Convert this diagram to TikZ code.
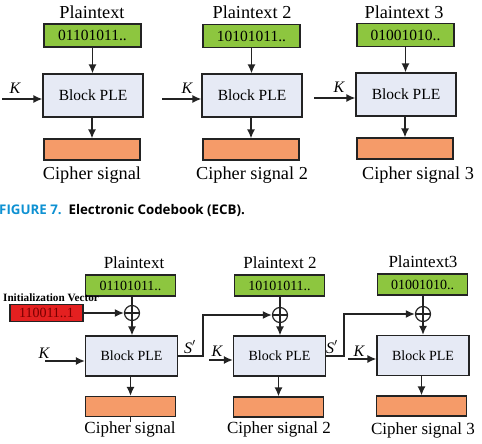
\documentclass[tikz,border=0pt]{standalone}
\usepackage{fontspec}
\setmainfont{Liberation Serif}
\newfontfamily\capfont{Open Sans}
\usetikzlibrary{arrows.meta}
\definecolor{grn}{RGB}{141,198,63}
\definecolor{blk}{RGB}{230,234,245}
\definecolor{org}{RGB}{245,155,105}
\definecolor{ivred}{RGB}{228,32,32}
\definecolor{ivtxt}{RGB}{120,0,0}
\definecolor{capblue}{RGB}{14,145,210}
\definecolor{ln}{RGB}{35,35,35}
\begin{document}
\begin{tikzpicture}[x=1pt,y=-1pt,
  box/.style={draw=ln, line width=1.1pt, inner sep=0pt, anchor=center},
  ptbox/.style={box, fill=grn, minimum width=97, minimum height=23, font=\fontsize{15.5}{16}\selectfont},
  blkbox/.style={box, fill=blk, minimum width=100, minimum height=43, font=\fontsize{15.5}{16}\selectfont},
  orgbox/.style={box, fill=org, minimum width=96, minimum height=21},
  lbl/.style={inner sep=0pt, anchor=center, font=\fontsize{18.3}{19}\selectfont},
  klbl/.style={inner sep=0pt, anchor=center, font=\fontsize{16}{16}\selectfont\itshape},
  arr/.style={draw=ln, line width=1.6pt, -{Latex[length=9pt,width=8pt]}},
  ln/.style={draw=ln, line width=1.5pt},
  ptboxb/.style={box, fill=grn, minimum width=90, minimum height=21, font=\fontsize{14}{15}\selectfont},
  blkboxb/.style={box, fill=blk, minimum width=92, minimum height=40, font=\fontsize{14}{15}\selectfont},
  orgboxb/.style={box, fill=org, minimum width=90, minimum height=20},
  lblb/.style={inner sep=0pt, anchor=center, font=\fontsize{17}{18}\selectfont},
  xorc/.style={draw=ln, line width=1.2pt, circle, minimum size=15pt, inner sep=0pt, anchor=center},
]
\useasboundingbox (0,0) rectangle (482,444);

% ---------------- ECB ----------------
\node[lbl] (pt1) at (92,12) {Plaintext};
\node[ptbox] (g1) at (92.5,35.5) {01101011..};
\node[blkbox] (b1) at (93,95.5) {Block PLE};
\node[orgbox] (o1) at (92,149.5) {};
\node[lbl] (c1) at (92,175) {Cipher signal};
\draw[arr] (g1.south) -- (g1.south |- b1.north);
\draw[arr] (b1.south -| o1.north) -- (o1.north);
\coordinate (k1) at (2,99);
\draw[arr] (k1) -- (k1 -| b1.west);
\node[klbl] (kl1) at (15,88) {K};

\node[lbl] (pt2) at (252,12) {Plaintext 2};
\node[ptbox] (g2) at (251.5,36) {10101011..};
\node[blkbox] (b2) at (252,95.5) {Block PLE};
\node[orgbox] (o2) at (251,149.5) {};
\node[lbl] (c2) at (252,175) {Cipher signal 2};
\draw[arr] (g2.south) -- (g2.south |- b2.north);
\draw[arr] (b2.south -| o2.north) -- (o2.north);
\coordinate (k2) at (162,99);
\draw[arr] (k2) -- (k2 -| b2.west);
\node[klbl] (kl2) at (187,88) {K};

\node[lbl] (pt3) at (404,12) {Plaintext 3};
\node[ptbox] (g3) at (405.5,35) {01001010..};
\node[blkbox] (b3) at (406,94.5) {Block PLE};
\node[orgbox] (o3) at (405,148.5) {};
\node[lbl] (c3) at (418,175) {Cipher signal 3};
\draw[arr] (g3.south) -- (g3.south |- b3.north);
\draw[arr] (b3.south -| o3.north) -- (o3.north);
\coordinate (k3) at (314,98);
\draw[arr] (k3) -- (k3 -| b3.west);
\node[klbl] (kl3) at (339,87) {K};

% caption
\node[anchor=west, inner sep=0pt, font=\capfont\bfseries\fontsize{13.3}{14}\selectfont] (cap) at (-1,210)
  {\textcolor{capblue}{FIGURE 7.}\ \ Electronic Codebook (ECB).};

% ---------------- CBC ----------------
\node[lblb] (qt1) at (134,263) {Plaintext};
\node[ptboxb] (h1) at (130.5,285.5) {01101011..};
\node[xorc] (x1) at (132,313) {};
\node[blkboxb] (d1) at (131.5,356) {Block PLE};
\node[orgboxb] (e1) at (130.5,406.5) {};
\node[lblb] (f1) at (130,429) {Cipher signal};
\node[inner sep=0pt, anchor=center, font=\fontsize{11.2}{12}\selectfont\bfseries] (ivl) at (51,298) {Initialization Vector};
\node[box, fill=ivred, minimum width=73, minimum height=17, text=ivtxt, font=\fontsize{14}{14}\selectfont] (iv) at (46.5,313) {110011..1};

\draw[ln] (x1.north) -- (x1.south) (x1.west) -- (x1.east);
\draw[ln] (h1.south -| x1.north) -- (x1.north);
\draw[arr] (x1.south) -- (x1.south |- d1.north);
\draw[arr] (iv.east) -- (x1.west);
\draw[arr] (d1.south -| e1.north) -- (e1.north);
\draw[draw=ln, line width=0.8pt] (e1.south) -- ++(0,5);
\coordinate (kk1) at (45,361);
\draw[arr] (kk1) -- (kk1 -| d1.west);
\node[klbl] (kb1) at (44,353) {K};

\node[lblb] (qt2) at (280,263) {Plaintext 2};
\node[ptboxb] (h2) at (279.5,285.5) {10101011..};
\node[xorc] (x2) at (280,315) {};
\node[blkboxb] (d2) at (279.5,356) {Block PLE};
\node[orgboxb] (e2) at (278.5,407) {};
\node[lblb] (f2) at (279,429) {Cipher signal 2};
\draw[ln] (x2.north) -- (x2.south) (x2.west) -- (x2.east);
\draw[ln] (h2.south -| x2.north) -- (x2.north);
\draw[arr] (x2.south) -- (x2.south |- d2.north);
\draw[arr] (d2.south -| e2.north) -- (e2.north);
\coordinate (kk2) at (209,360);
\draw[arr] (kk2) -- (kk2 -| d2.west);
\node[klbl] (kb2) at (217,351) {K};

\coordinate (s1) at (203,0);
\draw[arr] (d1.east) -- (d1.east -| s1) |- (x2.west);
\node[klbl] (sl1) at (190,347) {S$'$};

\node[lblb] (qt3) at (423,262) {Plaintext3};
\node[ptboxb] (h3) at (422.5,284.5) {01001010..};
\node[xorc] (x3) at (423,314) {};
\node[blkboxb] (d3) at (423,355.5) {Block PLE};
\node[orgboxb] (e3) at (421.5,406) {};
\node[lblb] (f3) at (423,430) {Cipher signal 3};
\draw[ln] (x3.north) -- (x3.south) (x3.west) -- (x3.east);
\draw[ln] (h3.south -| x3.north) -- (x3.north);
\draw[arr] (x3.south) -- (x3.south |- d3.north);
\draw[arr] (d3.south -| e3.north) -- (e3.north);
\coordinate (kk3) at (348,359);
\draw[arr] (kk3) -- (kk3 -| d3.west);
\node[klbl] (kb3) at (359,351) {K};

\coordinate (s2) at (344,0);
\draw[arr] (d2.east) -- (d2.east -| s2) |- (x3.west);
\node[klbl] (sl2) at (332,347) {S$'$};
\end{tikzpicture}
\end{document}
